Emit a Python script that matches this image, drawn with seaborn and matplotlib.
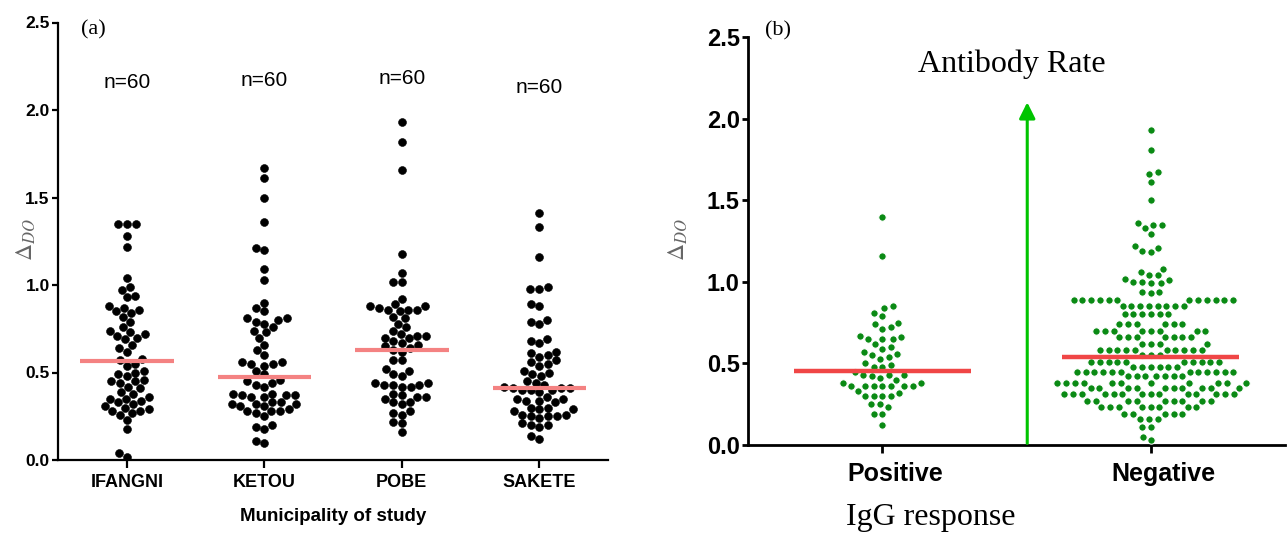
#!/usr/bin/env python3

import pandas as pd
import matplotlib
matplotlib.use("Agg")
import matplotlib.pyplot as plt
from matplotlib.transforms import ScaledTranslation
import seaborn as sns

# Panel (a): optical density by municipality (n=60 each)
municipalities = ["IFANGNI", "KETOU", "POBE", "SAKETE"]
ifangni = [0.02, 0.04, 0.18, 0.23, 0.26, 0.27, 0.28, 0.28, 0.29, 0.30, 0.31, 0.32,
           0.33, 0.34, 0.35, 0.35, 0.36, 0.38, 0.39, 0.41, 0.42, 0.44, 0.45, 0.45,
           0.46, 0.48, 0.49, 0.50, 0.51, 0.54, 0.55, 0.57, 0.58, 0.62, 0.64, 0.66,
           0.69, 0.70, 0.71, 0.72, 0.73, 0.74, 0.76, 0.79, 0.82, 0.84, 0.85, 0.86,
           0.87, 0.88, 0.93, 0.94, 0.97, 0.99, 1.04, 1.22, 1.28, 1.35, 1.35, 1.35]
ketou = [1.67, 1.61, 1.50, 1.36, 1.21, 1.20, 1.09, 1.03, 0.90, 0.87, 0.85, 0.81,
         0.80, 0.79, 0.78, 0.81, 0.76, 0.74, 0.73, 0.70, 0.66, 0.63, 0.60, 0.56,
         0.56, 0.55, 0.55, 0.54, 0.51, 0.49, 0.46, 0.45, 0.44, 0.43, 0.42, 0.38,
         0.37, 0.37, 0.36, 0.36, 0.37, 0.38, 0.33, 0.32, 0.32, 0.31, 0.31, 0.32,
         0.33, 0.29, 0.28, 0.28, 0.27, 0.28, 0.25, 0.20, 0.19, 0.18, 0.11, 0.10]
pobe = [1.93, 1.82, 1.66, 1.18, 1.07, 1.02, 1.02, 0.92, 0.89, 0.88, 0.87, 0.86,
        0.86, 0.86, 0.85, 0.88, 0.82, 0.81, 0.78, 0.76, 0.74, 0.72, 0.71, 0.70,
        0.70, 0.71, 0.68, 0.67, 0.66, 0.65, 0.64, 0.63, 0.62, 0.57, 0.57, 0.52,
        0.51, 0.49, 0.48, 0.44, 0.43, 0.43, 0.42, 0.44, 0.43, 0.42, 0.38, 0.37,
        0.36, 0.36, 0.35, 0.33, 0.33, 0.32, 0.28, 0.27, 0.26, 0.22, 0.21, 0.16]
sakete = [1.41, 1.33, 1.16, 0.99, 0.98, 0.98, 0.89, 0.88, 0.80, 0.78, 0.79, 0.69,
          0.67, 0.68, 0.62, 0.61, 0.60, 0.59, 0.57, 0.56, 0.55, 0.54, 0.51, 0.50,
          0.49, 0.48, 0.45, 0.44, 0.43, 0.41, 0.41, 0.40, 0.40, 0.39, 0.40, 0.41,
          0.42, 0.36, 0.35, 0.34, 0.34, 0.33, 0.35, 0.30, 0.29, 0.29, 0.28, 0.30,
          0.26, 0.25, 0.25, 0.24, 0.25, 0.26, 0.21, 0.20, 0.19, 0.20, 0.14, 0.12]
muni_means = [0.565, 0.475, 0.63, 0.41]
n_labels = ["n=60", "n=60", "n=60", "n=60"]
n_label_y = [2.16, 2.17, 2.18, 2.13]

# Panel (b): optical density by IgG response
responses = ["Positive", "Negative"]
positive = [1.40, 1.16, 0.85, 0.84, 0.81, 0.79, 0.75, 0.74, 0.72, 0.71, 0.67,
            0.65, 0.65, 0.66, 0.65, 0.62, 0.60, 0.59, 0.57, 0.56, 0.55, 0.54,
            0.53, 0.50, 0.49, 0.48, 0.48, 0.45, 0.43, 0.43, 0.43, 0.42, 0.41,
            0.40, 0.38, 0.38, 0.36, 0.36, 0.36, 0.36, 0.36, 0.36, 0.36, 0.33,
            0.32, 0.30, 0.30, 0.30, 0.30, 0.25, 0.25, 0.23, 0.19, 0.19, 0.12]
negative = [1.93, 1.81, 1.67, 1.66, 1.61, 1.50, 1.36, 1.35, 1.35, 1.33, 1.29,
            1.22, 1.21, 1.19, 1.18, 1.08, 1.06, 1.04, 1.02, 1.00, 0.99, 0.99,
            1.00, 1.01, 1.04, 0.94, 0.93, 0.94,
            0.89, 0.89, 0.89, 0.89, 0.89, 0.89, 0.89, 0.89, 0.89, 0.89, 0.89, 0.89,
            0.85, 0.85, 0.85, 0.85, 0.85, 0.85, 0.85, 0.85,
            0.80, 0.80, 0.80, 0.80, 0.80, 0.80,
            0.74, 0.74, 0.74, 0.74, 0.74, 0.74,
            0.70, 0.70, 0.70, 0.70, 0.70, 0.70, 0.70, 0.70,
            0.66, 0.66, 0.66, 0.66, 0.66, 0.66, 0.66,
            0.62, 0.62, 0.62, 0.62,
            0.58, 0.58, 0.58, 0.58, 0.58, 0.58, 0.58, 0.58, 0.58, 0.58,
            0.55, 0.55, 0.55,
            0.51, 0.51, 0.51, 0.51, 0.51, 0.51, 0.51, 0.51, 0.51, 0.51,
            0.48, 0.48, 0.48, 0.48, 0.48, 0.48,
            0.45, 0.45, 0.45, 0.45, 0.45, 0.45, 0.45, 0.45, 0.45, 0.45, 0.45, 0.45,
            0.42, 0.42, 0.42, 0.42, 0.42, 0.42, 0.42,
            0.38, 0.38, 0.38, 0.38, 0.38, 0.38, 0.38, 0.38, 0.38, 0.38, 0.38,
            0.35, 0.35, 0.35, 0.35, 0.35, 0.35, 0.35, 0.35, 0.35, 0.35,
            0.31, 0.31, 0.31, 0.31, 0.31, 0.31, 0.31, 0.31, 0.31, 0.31, 0.31, 0.31,
            0.31, 0.31,
            0.27, 0.27, 0.27, 0.27, 0.27, 0.27, 0.27, 0.27, 0.27,
            0.23, 0.23, 0.23, 0.23, 0.23, 0.23, 0.23, 0.23,
            0.19, 0.19, 0.19, 0.19, 0.19,
            0.16, 0.16, 0.16,
            0.11, 0.11, 0.05, 0.03]
response_means = [0.455, 0.54]

SANS = ["Liberation Sans", "DejaVu Sans"]
SERIF = ["Liberation Serif", "DejaVu Serif"]

sns.set_style("ticks")
plt.rcParams["font.family"] = SANS
plt.rcParams["mathtext.fontset"] = "stix"
# plain black text like the original figure
for key in ("text.color", "axes.labelcolor", "xtick.color", "ytick.color"):
    plt.rcParams[key] = "black"

W, H = 1287, 534
fig = plt.figure(figsize=(W / 100, H / 100), dpi=100)


def px_axes(left, top, right, bottom):
    return fig.add_axes([left / W, 1 - bottom / H, (right - left) / W, (bottom - top) / H])


def style_axes(ax, lw):
    sns.despine(ax=ax)
    for side in ("left", "bottom"):
        ax.spines[side].set_linewidth(lw)
        ax.spines[side].set_color("black")
    ax.set_ylim(0, 2.5)
    ax.set_yticks([0.0, 0.5, 1.0, 1.5, 2.0, 2.5])
    ax.set_yticklabels(["0.0", "0.5", "1.0", "1.5", "2.0", "2.5"])
    ax.set_xlabel("")
    ax.set_ylabel("")


# ---------------- Panel (a)
df_a = pd.DataFrame({
    "municipality": (["IFANGNI"] * len(ifangni) + ["KETOU"] * len(ketou)
                     + ["POBE"] * len(pobe) + ["SAKETE"] * len(sakete)),
    "od": ifangni + ketou + pobe + sakete,
})
ax1 = px_axes(58, 22.5, 608, 460)
sns.swarmplot(data=df_a, x="municipality", y="od", order=municipalities,
              color="black", edgecolor="black", linewidth=0.4, size=5.7, ax=ax1)
for i, m in enumerate(muni_means):
    ax1.hlines(m, i - 0.34, i + 0.34, color="#f48282", lw=3, zorder=5)
for i, t in enumerate(n_labels):
    ax1.text(i, n_label_y[i], t, ha="center", va="center", fontsize=15)
style_axes(ax1, 1.6)
ax1.set_xlim(-0.5, 3.5)
ax1.tick_params(axis="y", labelsize=12.5, width=1.6, length=4, pad=2)
ax1.tick_params(axis="x", labelsize=13, width=1.6, length=6, pad=4)
for lab in ax1.get_xticklabels() + ax1.get_yticklabels():
    lab.set_fontweight("bold")
ax1.set_xlabel("Municipality of study", fontsize=13.5, fontweight="bold", labelpad=12)
fig.text(26 / W, 1 - 240 / H, r"$\mathit{\Delta}_{\mathit{DO}}$", rotation=90,
         ha="center", va="center", fontsize=17, color="#666666")
fig.text(93 / W, 1 - 30 / H, "(a)", family=SERIF, fontsize=16, ha="center", va="center")

# ---------------- Panel (b)
df_b = pd.DataFrame({
    "response": ["Positive"] * len(positive) + ["Negative"] * len(negative),
    "od": positive + negative,
})
ax2 = px_axes(748, 37, 1285, 445)
sns.swarmplot(data=df_b, x="response", y="od", order=responses,
              color="#0a8a14", edgecolor="white", linewidth=0.7, size=5.3, ax=ax2)
for i, m in enumerate(response_means):
    ax2.hlines(m, i - 0.33, i + 0.33, color="#f04646", lw=3.2, zorder=5)
style_axes(ax2, 2)
ax2.set_xlim(-0.5, 1.5)
ax2.tick_params(axis="y", labelsize=17, width=2, length=4, pad=2)
ax2.tick_params(axis="x", labelsize=18, width=2, length=6, pad=6)
for lab in ax2.get_yticklabels():
    lab.set_fontweight("bold")
shift = ScaledTranslation(13 / 100, 0, fig.dpi_scale_trans)
for lab in ax2.get_xticklabels():
    lab.set_fontweight("bold")
    lab.set_transform(lab.get_transform() + shift)

# rising antibody-rate arrow
ax2.annotate("", xy=(0.54, 2.10), xytext=(0.54, 0.01),
             arrowprops=dict(arrowstyle="-|>", color="#00c400", lw=2.2,
                             mutation_scale=24, shrinkA=0, shrinkB=0))
ax2.text(0.483, 2.33, "Antibody Rate", family=SERIF, fontsize=23,
         ha="center", va="center")
fig.text(931 / W, 1 - 517 / H, "IgG response", family=SERIF, fontsize=23,
         ha="center", va="center")
fig.text(678 / W, 1 - 240 / H, r"$\mathit{\Delta}_{\mathit{DO}}$", rotation=90,
         ha="center", va="center", fontsize=17, color="#666666")
fig.text(778 / W, 1 - 31 / H, "(b)", family=SERIF, fontsize=16, ha="center", va="center")

fig.savefig("out.png", dpi=100)
